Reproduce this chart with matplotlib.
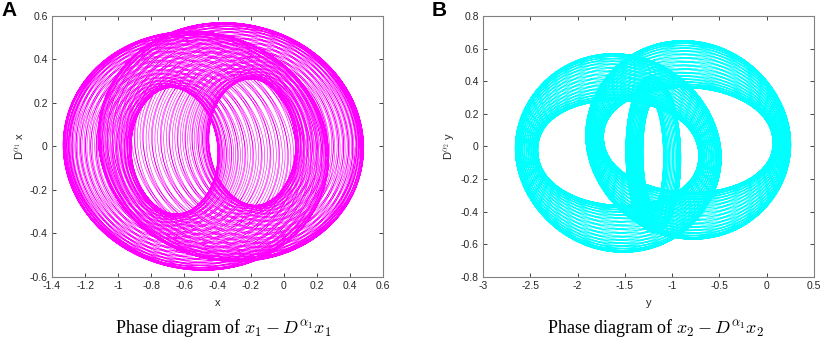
import numpy as np
import matplotlib
matplotlib.use("Agg")
import matplotlib.pyplot as plt

plt.rcParams["font.family"] = ["Liberation Sans", "DejaVu Sans"]
plt.rcParams["mathtext.fontset"] = "cm"

# loop families, one entry per family
# (centre, half width, half height, how they swing from loop to loop)
# panel A: x1 vs D^a1 x1
a_cx = [-0.595, -0.255]
a_cy = [-0.02, 0.02]
a_half_w = [0.5325, 0.5325]
a_half_h = [0.42, 0.42]
a_swing_w = [0.25, 0.25]
a_swing_h = [0.13, 0.13]
a_drift = [0.07, -0.07]      # centre drift in step with the size
a_slide = [0.10, -0.10]      # centre drift a quarter turn later
a_loops = [80, 80]

# panel B: x2 vs D^a2 x2
b_cx = [-1.57, -0.83, -1.20]
b_cy = [-0.04, 0.04, -0.05]
b_half_w = [0.97, 0.99, 0.20]
b_half_h = [0.465, 0.465, 0.40]
b_swing_w = [0.08, 0.07, 0.07]
b_swing_h = [0.145, 0.145, 0.08]
b_drift = [0.0, 0.0, 0.0]
b_slide = [0.09, -0.065, 0.06]
b_loops = [80, 80, 50]

a_xticks = [-1.4, -1.2, -1, -0.8, -0.6, -0.4, -0.2, 0, 0.2, 0.4, 0.6]
a_yticks = [-0.6, -0.4, -0.2, 0, 0.2, 0.4, 0.6]
b_xticks = [-3, -2.5, -2, -1.5, -1, -0.5, 0, 0.5]
b_yticks = [-0.8, -0.6, -0.4, -0.2, 0, 0.2, 0.4, 0.6, 0.8]


def draw_loops(ax, cx, cy, hw, hh, sw, sh, dr, sl, loops, color):
    t = np.linspace(0, 2 * np.pi * loops, loops * 240)
    s = t / 39.3
    x = cx + dr * np.cos(s) + sl * np.sin(s) + (hw + sw * np.cos(s)) * np.cos(t)
    y = cy + (hh + sh * np.cos(s)) * np.sin(t - 0.05)
    ax.plot(x, y, color=color, lw=0.4)


def style_axes(ax, xticks, yticks, xlabel, ylabel):
    ax.set_xlim(xticks[0], xticks[-1])
    ax.set_ylim(yticks[0], yticks[-1])
    ax.set_xticks(xticks)
    ax.set_yticks(yticks)
    ax.set_xticklabels(["%g" % v for v in xticks])
    ax.set_yticklabels(["%g" % v for v in yticks])
    ax.tick_params(direction="in", top=True, right=True, length=3,
                   width=0.6, labelsize=7.5, colors="#262626", pad=3)
    for sp in ax.spines.values():
        sp.set_color("#808080")
        sp.set_linewidth(0.8)
    ax.set_xlabel(xlabel, fontsize=8, color="#262626", labelpad=5)
    ax.set_ylabel(ylabel, fontsize=8, color="#262626", labelpad=2)


fig = plt.figure(figsize=(8.23, 3.39), dpi=100)
ax1 = fig.add_axes([0.0632, 0.183, 0.4022, 0.770])
ax2 = fig.add_axes([0.5869, 0.183, 0.4022, 0.770])

for i in range(len(a_cx)):
    draw_loops(ax1, a_cx[i], a_cy[i], a_half_w[i], a_half_h[i], a_swing_w[i],
               a_swing_h[i], a_drift[i], a_slide[i], a_loops[i], "#ff00ff")
for i in range(len(b_cx)):
    draw_loops(ax2, b_cx[i], b_cy[i], b_half_w[i], b_half_h[i], b_swing_w[i],
               b_swing_h[i], b_drift[i], b_slide[i], b_loops[i], "#00ffff")

style_axes(ax1, a_xticks, a_yticks, "x", r"D$^{\alpha_1}$ x")
style_axes(ax2, b_xticks, b_yticks, "y", r"D$^{\alpha_2}$ y")

fig.text(0.002, 0.952, "A", fontsize=15, fontweight="bold")
fig.text(0.525, 0.952, "B", fontsize=15, fontweight="bold")

fig.text(0.271, 0.032, r"Phase diagram of $x_1 - D^{\alpha_1}x_1$",
         ha="center", va="center", fontsize=13, family="Liberation Serif")
fig.text(0.796, 0.032, r"Phase diagram of $x_2 - D^{\alpha_1}x_2$",
         ha="center", va="center", fontsize=13, family="Liberation Serif")

fig.savefig("out.png", dpi=100)
